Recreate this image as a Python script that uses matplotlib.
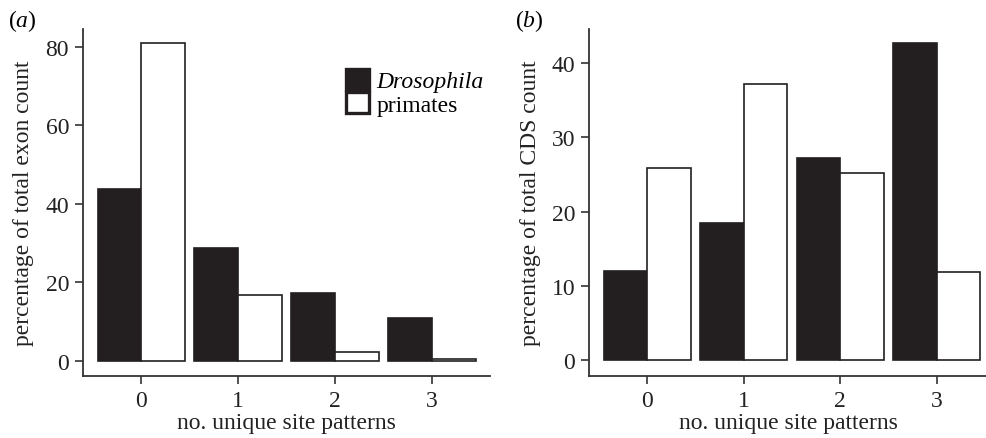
import matplotlib
matplotlib.use("Agg")
import matplotlib.pyplot as plt
import numpy as np

plt.rcParams['font.family'] = ['Liberation Serif', 'DejaVu Serif']
plt.rcParams['mathtext.fontset'] = 'custom'
plt.rcParams['mathtext.rm'] = 'Liberation Serif'
plt.rcParams['mathtext.it'] = 'Liberation Serif:italic'

# data
patterns = [0, 1, 2, 3]
exon_drosophila = [43.7, 28.6, 17.2, 10.9]
exon_primates = [81.0, 16.8, 2.3, 0.4]
cds_drosophila = [12.0, 18.4, 27.2, 42.7]
cds_primates = [25.9, 37.2, 25.2, 11.9]

dark = "#231f20"
axcol = "#333333"
w = 0.45
fs = 17

fig = plt.figure(figsize=(9.87, 4.39), dpi=100)
ax_a = fig.add_axes([0.0841, 0.1412, 0.4124, 0.7905])
ax_b = fig.add_axes([0.597, 0.1412, 0.403, 0.7905])


def panel(ax, dros, prim, ylabel, yticks, ylim, xlim):
    x = np.array(patterns)
    ax.bar(x - w / 2, dros, w, color=dark, edgecolor=dark, linewidth=1.2,
           label="Drosophila")
    ax.bar(x + w / 2, prim, w, color="white", edgecolor=dark, linewidth=1.2,
           label="primates")
    ax.set_xlim(*xlim)
    ax.set_ylim(*ylim)
    ax.set_xticks(patterns)
    ax.set_yticks(yticks)
    for s in ["top", "right"]:
        ax.spines[s].set_visible(False)
    for s in ["left", "bottom"]:
        ax.spines[s].set_color(axcol)
        ax.spines[s].set_linewidth(1.3)
    ax.tick_params(direction="out", length=6, width=1.2, color=axcol,
                   labelsize=fs, labelcolor="#222222", pad=4)
    ax.set_xlabel("no. unique site patterns", fontsize=fs, color="#222222", labelpad=1)
    ax.set_ylabel(ylabel, fontsize=fs, color="#222222", labelpad=8)


panel(ax_a, exon_drosophila, exon_primates, "percentage of total exon count",
      [0, 20, 40, 60, 80], (-3.9, 84.5), (-0.6, 3.6))
panel(ax_b, cds_drosophila, cds_primates, "percentage of total CDS count",
      [0, 10, 20, 30, 40], (-2.15, 44.6), (-0.6, 3.52))

leg = ax_a.legend(loc="upper left", bbox_to_anchor=(0.616, 0.92), frameon=False,
                  handlelength=1.0, handleheight=1.0, labelspacing=0.0,
                  handletextpad=0.3, borderpad=0, fontsize=fs)
leg.get_texts()[0].set_fontstyle("italic")
for h in leg.legend_handles:
    h.set_linewidth(2.4)

fig.text(0.008, 0.952, r"$(\mathit{a})$", fontsize=fs, ha="left", va="center")
fig.text(0.522, 0.952, r"$(\mathit{b})$", fontsize=fs, ha="left", va="center")

fig.savefig("out.png", dpi=100)
